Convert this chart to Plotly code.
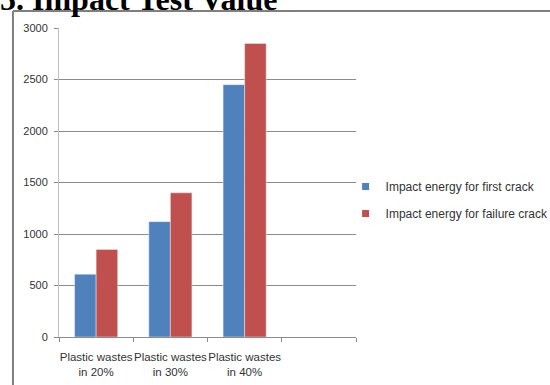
import plotly.graph_objects as go

# Impact energy (J) by plastic waste content
categories = ["Plastic wastes<br>in 20%", "Plastic wastes<br>in 30%", "Plastic wastes<br>in 40%"]
first_crack = [610, 1120, 2450]
failure_crack = [850, 1400, 2850]
y_ticks = [0, 500, 1000, 1500, 2000, 2500, 3000]
series_names = ["Impact energy for first crack", "Impact energy for failure crack"]

BLUE = "#4F81BD"
RED = "#C0504D"
GRID = "#8C8C8C"
TEXT = "#333333"
NARROW = "Liberation Sans Narrow, Arial Narrow, sans-serif"

xpos = list(range(len(categories)))

fig = go.Figure()
fig.add_trace(go.Bar(x=xpos, y=first_crack, name=series_names[0],
                     marker_color=BLUE, showlegend=False))
fig.add_trace(go.Bar(x=xpos, y=failure_crack, name=series_names[1],
                     marker_color=RED, showlegend=False))

# Legend entries with small square keys
for name, color, grp in [(series_names[0], BLUE, "a"), (series_names[1], RED, "b")]:
    fig.add_trace(go.Scatter(x=[None], y=[None], mode="markers", name=name,
                             marker=dict(symbol="square", size=7, color=color),
                             legendgroup=grp, showlegend=True))

fig.update_layout(
    width=550, height=385,
    margin=dict(l=59, r=194, t=28, b=48, autoexpand=False),
    paper_bgcolor="white", plot_bgcolor="white",
    barmode="group", bargap=0.42, bargroupgap=0,
    font=dict(family=NARROW, size=12, color=TEXT),
    showlegend=True,
    legend=dict(x=0.965, y=0.443, xanchor="left", yanchor="middle",
                font=dict(family=NARROW, size=12, color=TEXT),
                tracegroupgap=8, itemwidth=30, bgcolor="rgba(0,0,0,0)"),
    xaxis=dict(range=[-0.5, 3.5], tickvals=xpos, ticktext=categories, tickangle=0,
               automargin=False, ticklabelstandoff=9,
               showgrid=False, zeroline=False, showline=True, linecolor=GRID, linewidth=1,
               ticks="", tickfont=dict(family=NARROW, size=11.5, color=TEXT),
               minor=dict(ticks="outside", tick0=0.5, dtick=1, ticklen=4, tickcolor=GRID,
                          showgrid=False)),
    yaxis=dict(range=[0, 3000], tickvals=y_ticks, showgrid=True, gridcolor=GRID, gridwidth=1,
               automargin=False,
               zeroline=False, showline=True, linecolor="#BFBFBF", linewidth=1,
               ticks="outside", ticklen=4, tickcolor=GRID, ticklabelstandoff=4,
               tickfont=dict(family=NARROW, size=11, color=TEXT)),
)

# Section heading above the figure frame
fig.add_annotation(text="<b>5. Impact Test Value</b>", xref="paper", yref="paper",
                   x=-0.205, y=1.03, xanchor="left", yanchor="bottom", showarrow=False,
                   font=dict(family="Liberation Serif, Times New Roman, serif", size=32, color="black"))

# Frame around the figure (top and left edges)
fig.add_shape(type="line", xref="paper", yref="paper", x0=-0.155, x1=1.7, y0=1.055, y1=1.055,
              line=dict(color="#7F7F7F", width=2))
fig.add_shape(type="line", xref="paper", yref="paper", x0=-0.155, x1=-0.155, y0=1.055, y1=-0.2,
              line=dict(color="#7F7F7F", width=2))

fig.write_html("out.html")
